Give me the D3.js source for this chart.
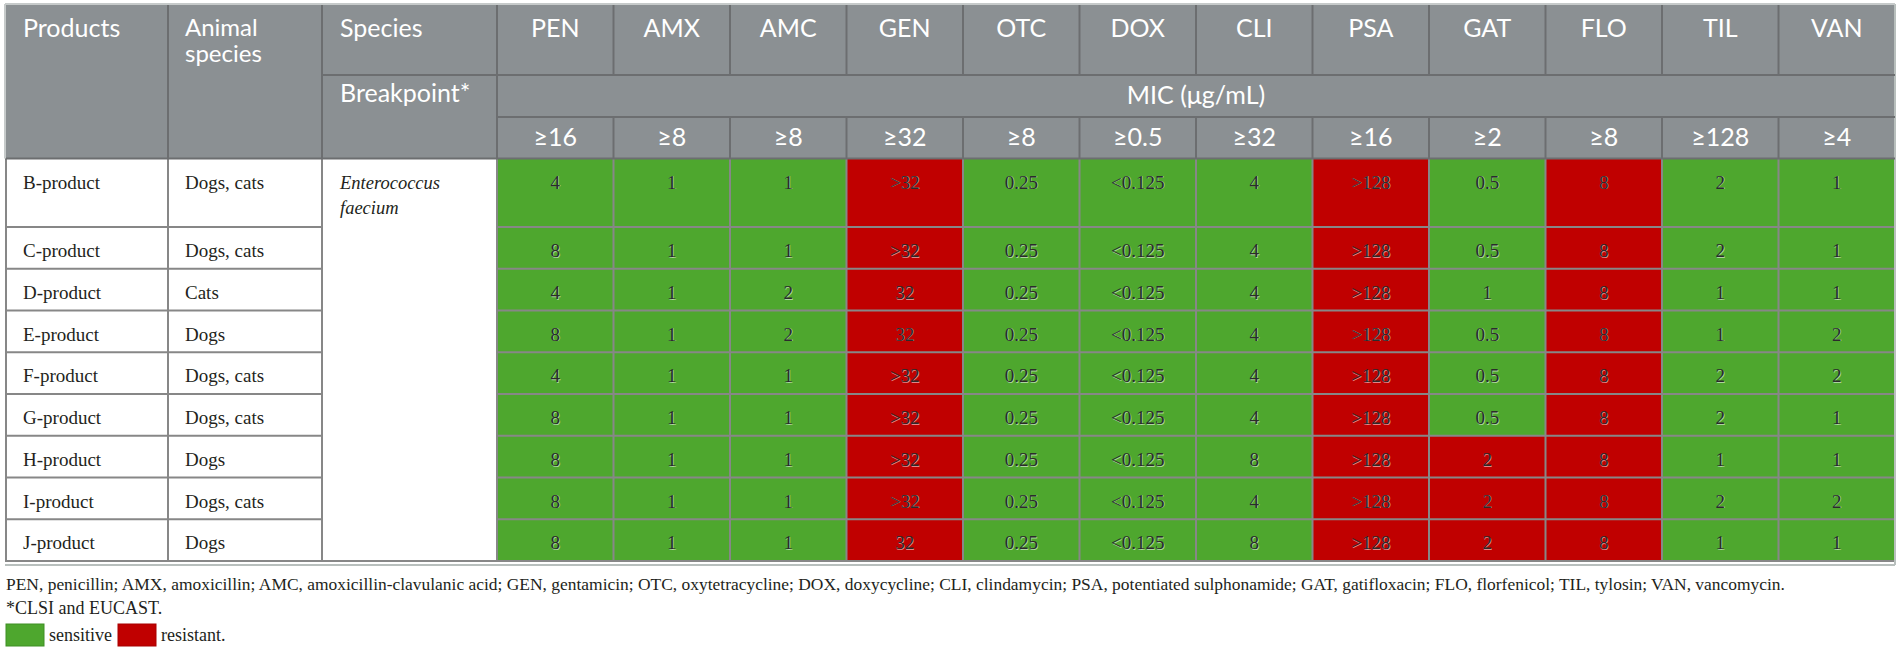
<!DOCTYPE html>
<html>
<head>
<meta charset="utf-8">
<script src="https://cdn.jsdelivr.net/npm/d3@7"></script>
<style>
  html, body { margin: 0; padding: 0; background: #fff; overflow: hidden; }
  svg { display: block; }
</style>
</head>
<body>
<div id="table-container"></div>
<script>
// ---- data ----
const products = ["B-product", "C-product", "D-product", "E-product", "F-product",
                  "G-product", "H-product", "I-product", "J-product"];
const animals = ["Dogs, cats", "Dogs, cats", "Cats", "Dogs", "Dogs, cats",
                 "Dogs, cats", "Dogs", "Dogs, cats", "Dogs"];
const drugs = ["PEN", "AMX", "AMC", "GEN", "OTC", "DOX", "CLI", "PSA", "GAT", "FLO", "TIL", "VAN"];
const breakpoints = [16, 8, 8, 32, 8, 0.5, 32, 16, 2, 8, 128, 4];
const breakpointLabels = ["≥16", "≥8", "≥8", "≥32", "≥8", "≥0.5", "≥32", "≥16", "≥2", "≥8", "≥128", "≥4"];
const micValues = [
  ["4", "1", "1", ">32", "0.25", "<0.125", "4", ">128", "0.5", "8", "2", "1"],
  ["8", "1", "1", ">32", "0.25", "<0.125", "4", ">128", "0.5", "8", "2", "1"],
  ["4", "1", "2", "32",  "0.25", "<0.125", "4", ">128", "1",   "8", "1", "1"],
  ["8", "1", "2", "32",  "0.25", "<0.125", "4", ">128", "0.5", "8", "1", "2"],
  ["4", "1", "1", ">32", "0.25", "<0.125", "4", ">128", "0.5", "8", "2", "2"],
  ["8", "1", "1", ">32", "0.25", "<0.125", "4", ">128", "0.5", "8", "2", "1"],
  ["8", "1", "1", ">32", "0.25", "<0.125", "8", ">128", "2",   "8", "1", "1"],
  ["8", "1", "1", ">32", "0.25", "<0.125", "4", ">128", "2",   "8", "2", "2"],
  ["8", "1", "1", "32",  "0.25", "<0.125", "8", ">128", "2",   "8", "1", "1"]
];
const speciesLines = ["Enterococcus", "faecium"];
const footnotes = [
  "PEN, penicillin; AMX, amoxicillin; AMC, amoxicillin-clavulanic acid; GEN, gentamicin; OTC, oxytetracycline; DOX, doxycycline; CLI, clindamycin; PSA, potentiated sulphonamide; GAT, gatifloxacin; FLO, florfenicol; TIL, tylosin; VAN, vancomycin.",
  "*CLSI and EUCAST."
];
const legendItems = ["sensitive", "resistant."];

// ---- layout ----
const width = 1901, height = 651;
const left = 5, right = 1895;
const colProducts = 168, colAnimal = 322, colDrugs = 497;
const hTop = 4, hRow1 = 75, hRow2 = 117, hBottom = 158.5, tBottom = 561;

const GREEN = "#4ea72e", RED = "#c00000";
const HEAD_BG = "#8b9093", HEAD_LINE = "#6c6e70", GRID = "#878787";
const SANS = "Lato, 'Open Sans', sans-serif";
const SERIF = "'Liberation Serif', 'DejaVu Serif', serif";

const svg = d3.select("#table-container").append("svg")
  .attr("width", width).attr("height", height)
  .attr("viewBox", `0 0 ${width} ${height}`);

const x = d3.scaleBand().domain(drugs).range([colDrugs, right]);
// first body row is taller (species name wraps)
const y = d3.scaleLinear().domain([0, 1, products.length]).range([hBottom, 227, tBottom]);

const isResistant = (v, j) => parseFloat(v.replace(/[<>]/g, "")) >= breakpoints[j];

// header block
const head = svg.append("g");
head.append("rect")
  .attr("x", left).attr("y", hTop).attr("width", right - left).attr("height", hBottom - hTop)
  .attr("fill", HEAD_BG);

// body backgrounds
const body = svg.append("g");
body.append("rect")
  .attr("x", left).attr("y", hBottom).attr("width", colDrugs - left).attr("height", tBottom - hBottom)
  .attr("fill", "#fff");

const cells = [];
micValues.forEach((row, i) => row.forEach((v, j) => cells.push({ i, j, v, res: isResistant(v, j) })));

body.selectAll("rect.cell").data(cells).enter().append("rect")
  .attr("class", "cell")
  .attr("x", d => x(drugs[d.j]))
  .attr("y", d => y(d.i))
  .attr("width", x.bandwidth())
  .attr("height", d => y(d.i + 1) - y(d.i))
  .attr("fill", d => d.res ? RED : GREEN);

// grid lines
const grid = svg.append("g").attr("stroke", GRID).attr("stroke-width", 2);
d3.range(1, products.length).forEach(i => {
  grid.append("line").attr("x1", left).attr("x2", colAnimal).attr("y1", y(i)).attr("y2", y(i));
  grid.append("line").attr("x1", colDrugs).attr("x2", right).attr("y1", y(i)).attr("y2", y(i));
});
[left + 1, colProducts, colAnimal, colDrugs].forEach(cx => {
  grid.append("line").attr("x1", cx).attr("x2", cx).attr("y1", hBottom).attr("y2", tBottom);
});
drugs.slice(1).forEach(dn => {
  grid.append("line").attr("x1", x(dn)).attr("x2", x(dn)).attr("y1", hBottom).attr("y2", tBottom);
});
grid.append("line").attr("x1", left).attr("x2", right).attr("y1", tBottom).attr("y2", tBottom);
svg.append("line").attr("x1", left).attr("x2", right).attr("y1", tBottom + 4).attr("y2", tBottom + 4)
  .attr("stroke", "#b8bfbd").attr("stroke-width", 2);
svg.append("line").attr("x1", right).attr("x2", right).attr("y1", hTop).attr("y2", tBottom + 4)
  .attr("stroke", "#b8bfbd").attr("stroke-width", 2);

// header lines
const hl = svg.append("g").attr("stroke", HEAD_LINE).attr("stroke-width", 2);
[colProducts, colAnimal, colDrugs].forEach(cx => {
  hl.append("line").attr("x1", cx).attr("x2", cx).attr("y1", hTop).attr("y2", hBottom);
});
drugs.slice(1).forEach(dn => {
  hl.append("line").attr("x1", x(dn)).attr("x2", x(dn)).attr("y1", hTop).attr("y2", hRow1);
  hl.append("line").attr("x1", x(dn)).attr("x2", x(dn)).attr("y1", hRow2).attr("y2", hBottom);
});
hl.append("line").attr("x1", colAnimal).attr("x2", right).attr("y1", hRow1).attr("y2", hRow1);
hl.append("line").attr("x1", colDrugs).attr("x2", right).attr("y1", hRow2).attr("y2", hRow2);
hl.append("line").attr("x1", left).attr("x2", right).attr("y1", hBottom).attr("y2", hBottom);
svg.append("line").attr("x1", left).attr("x2", right).attr("y1", hTop).attr("y2", hTop)
  .attr("stroke", "#c6caca").attr("stroke-width", 2);
svg.append("line").attr("x1", left).attr("x2", left).attr("y1", hTop).attr("y2", hBottom)
  .attr("stroke", "#c6caca").attr("stroke-width", 2);

// header text
const ht = svg.append("g").attr("fill", "#fff").attr("font-family", SANS).attr("font-size", 25);
ht.append("text").attr("x", 23).attr("y", 37).text("Products");
const animalHead = ht.append("text").attr("x", 185).attr("y", 36).attr("font-size", 24);
animalHead.append("tspan").attr("x", 185).attr("dy", 0).text("Animal");
animalHead.append("tspan").attr("x", 185).attr("dy", 26).text("species");
ht.append("text").attr("x", 340).attr("y", 37).text("Species");
ht.append("text").attr("x", 340).attr("y", 102).text("Breakpoint*");
ht.selectAll("text.drug").data(drugs).enter().append("text")
  .attr("class", "drug")
  .attr("x", d => x(d) + x.bandwidth() / 2).attr("y", 37)
  .attr("text-anchor", "middle").text(d => d);
ht.append("text").attr("x", (colDrugs + right) / 2).attr("y", 104)
  .attr("text-anchor", "middle").text("MIC (μg/mL)");
ht.selectAll("text.bp").data(breakpointLabels).enter().append("text")
  .attr("class", "bp")
  .attr("x", (d, j) => x(drugs[j]) + x.bandwidth() / 2).attr("y", 146)
  .attr("text-anchor", "middle").text(d => d);

// body label text
const bt = svg.append("g").attr("fill", "#231f20").attr("font-family", SERIF).attr("font-size", 19);
bt.selectAll("text.prod").data(products).enter().append("text")
  .attr("class", "prod").attr("x", 23).attr("y", (d, i) => y(i) + 30).text(d => d);
bt.selectAll("text.animal").data(animals).enter().append("text")
  .attr("class", "animal").attr("x", 185).attr("y", (d, i) => y(i) + 30).text(d => d);
const sp = bt.append("text").attr("x", 340).attr("y", y(0) + 30)
  .attr("font-style", "italic").attr("font-size", 18.5);
speciesLines.forEach((t, k) => sp.append("tspan").attr("x", 340).attr("dy", k ? 25 : 0).text(t));

// data values (with the light halo seen in the original)
const vt = svg.append("g").attr("font-family", SERIF).attr("font-size", 19).attr("text-anchor", "middle");
vt.selectAll("text.halo").data(cells).enter().append("text")
  .attr("class", "halo")
  .attr("x", d => x(drugs[d.j]) + x.bandwidth() / 2 + 0.8)
  .attr("y", d => y(d.i) + 30.8)
  .attr("fill", "rgba(255,255,255,0.55)")
  .text(d => d.v);
vt.selectAll("text.val").data(cells).enter().append("text")
  .attr("class", "val")
  .attr("x", d => x(drugs[d.j]) + x.bandwidth() / 2)
  .attr("y", d => y(d.i) + 30)
  .attr("fill", "#2b2b2b")
  .text(d => d.v);

// footnotes
const ft = svg.append("g").attr("fill", "#231f20").attr("font-family", SERIF).attr("font-size", 18);
const f1 = ft.append("text").attr("x", 6).attr("y", 590).text(footnotes[0]);
ft.append("text").attr("x", 6).attr("y", 614).text(footnotes[1]);
// fit first footnote line to the width it takes in the original
const fw = f1.node().getComputedTextLength();
if (fw > 0) f1.attr("font-size", 18 * 1781 / fw);

// legend
const lg = svg.append("g");
const legendX = [6, 118];
legendItems.forEach((t, k) => {
  lg.append("rect").attr("x", legendX[k]).attr("y", 624).attr("width", 38).attr("height", 22)
    .attr("fill", k === 0 ? GREEN : RED)
    .attr("stroke", k === 0 ? "#3f8f25" : "#a80000").attr("stroke-width", 1);
  lg.append("text").attr("x", legendX[k] + 43).attr("y", 641)
    .attr("font-family", SERIF).attr("font-size", 18).attr("fill", "#231f20").text(t);
});
</script>
</body>
</html>
